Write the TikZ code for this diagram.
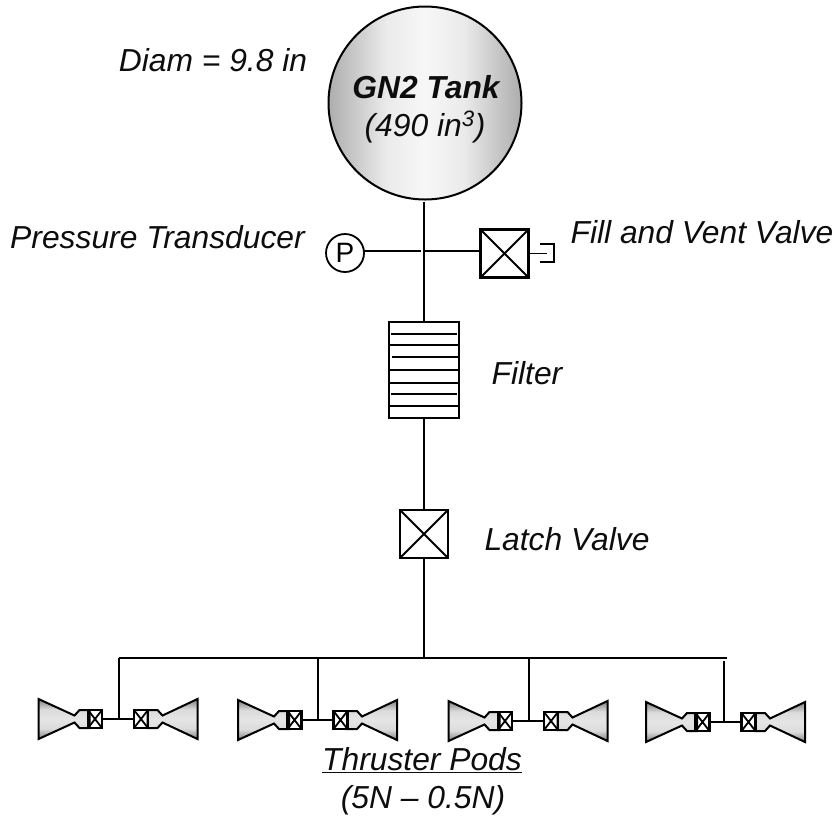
\documentclass[tikz,border=0pt]{standalone}
\usepackage{fontspec}
\setmainfont{Liberation Sans}
\usetikzlibrary{calc}
\pgfdeclarehorizontalshading{tankshade}{100bp}{
  color(0bp)=(black!32); color(25bp)=(black!32); color(40bp)=(black!8); color(50bp)=(black!3); color(60bp)=(black!8); color(75bp)=(black!32); color(100bp)=(black!32)}
\pgfdeclareverticalshading{nozzleshade}{100bp}{
  color(0bp)=(black!50); color(25bp)=(black!50); color(38bp)=(black!14); color(50bp)=(black!10); color(62bp)=(black!14); color(75bp)=(black!50); color(100bp)=(black!50)}
\tikzset{
  x=1pt,y=-1pt,
  lbl/.style={font=\fontsize{31.8}{38}\selectfont\itshape,inner sep=0pt,outer sep=0pt,text=black!95},
  pipe/.style={draw=black,line width=2.2pt},
  thin pipe/.style={draw=black,line width=1.7pt},
  valvebox/.style={draw=black,line width=2.3pt,rectangle,inner sep=0pt,outer sep=0pt,minimum width=#1,minimum height=#1,path picture={\draw[line width=1.8pt] (path picture bounding box.north west)--(path picture bounding box.south east) (path picture bounding box.north east)--(path picture bounding box.south west);}},
  podvalve/.style={valvebox=17pt,minimum width=14pt,minimum height=18pt,line width=2.4pt},
  tankshape/.style={draw=black,line width=2pt,circle,inner sep=0pt,outer sep=0pt,minimum size=193pt,shading=tankshade},
  gauge/.style={draw=black,line width=1.8pt,circle,inner sep=0pt,outer sep=0pt,minimum size=38pt,font=\fontsize{28}{32}\selectfont},
  filterbox/.style={draw=black,line width=2pt,rectangle,inner sep=0pt,outer sep=0pt,minimum width=70pt,minimum height=96pt},
  nozzle/.style={draw=black,line width=2pt,line join=miter,shading=nozzleshade},
}
\begin{document}
\begin{tikzpicture}
\useasboundingbox (0,0) rectangle (835,815);
% tank
\node[tankshape] (tank) at (425,103) {};
\node[lbl,font=\fontsize{31.8}{38}\selectfont\itshape\bfseries] (tanktitle) at (426,87) {GN2 Tank};
\node[lbl] (tankvol) at (425,127) {(490 in\textsuperscript{3})};
\node[lbl] (diam) at (213,60) {Diam = 9.8 in};
% line top
\coordinate (jn) at (424,251);
\coordinate (tanktap) at (424,202);
\node[gauge] (pt) at (345,253) {P};
\node[valvebox=48pt] (fv) at (504.5,253.5) {};
\node[filterbox] (filter) at (424,370) {};
\node[valvebox=48pt] (latch) at (424,534) {};
\coordinate (bus) at (424,658);
\coordinate (busl) at (119,658);
\coordinate (busr) at (727,658);
\draw[pipe] (tanktap) -- (filter.north -| tanktap);
\draw[pipe] (pt.east |- jn) -- ($(jn)+(-3,0)$);
\draw[thin pipe] (jn) -- (fv.west |- jn);
% fill stub
\coordinate (capa) at (540,244);
\coordinate (capb) at (554,244);
\coordinate (capc) at (554,262);
\coordinate (capd) at (540,262);
\draw[thin pipe] (fv.east) -- (547,253.5);
\draw[line width=1.5pt] (capa) -- (capb) -- (capc) -- (capd);
% filter baffles
\foreach \y/\a/\b in {334/391/457,345/389/459,357/392/459,370/389/459,383/389/459,394/391/457,406/389/459}
  \draw[line width=1.8pt] (\a,\y) -- (\b,\y);
\draw[pipe] (filter.south) -- (latch.north);
\draw[pipe] (latch.south) -- (bus);
\draw[pipe] (busl) -- (busr);
% pods
\foreach \n/\cx/\cy/\dx/\dt in {1/118.5/719/119/658,2/318/720/318/658,3/528.5/721/529/659,4/726/722/724/661}{
  \begin{scope}[shift={(\cx,\cy)}]
    \draw[nozzle] (-80,-20) -- (-44,-3.5) -- (-39,-9) -- (-29,-9) -- (-29,9) -- (-39,9) -- (-44,3.5) -- (-80,20) -- cycle;
    \draw[nozzle] (79,-20) -- (44,-3.5) -- (39,-9) -- (29,-9) -- (29,9) -- (39,9) -- (44,3.5) -- (79,20) -- cycle;
    \node[podvalve] (vl\n) at (-23.5,0) {};
    \node[podvalve] (vr\n) at (22.5,0) {};
    \draw[pipe] (vl\n.east) -- (vr\n.west);
  \end{scope}
  \coordinate (dt\n) at (\dx,\dt);
  \draw[pipe] (dt\n) -- (dt\n |- vl\n.center);
}
% labels
\node[lbl] (ptl) at (157.5,237) {Pressure Transducer};
\node[lbl] (fvl) at (702,232) {Fill and Vent Valve};
\node[lbl] (fl) at (527,373) {Filter};
\node[lbl] (ll) at (567,539) {Latch Valve};
\node[lbl] (tp) at (422,760) {\underline{Thruster Pods}};
\node[lbl] (tr) at (423,800) {(5N – 0.5N)};
\end{tikzpicture}
\end{document}
